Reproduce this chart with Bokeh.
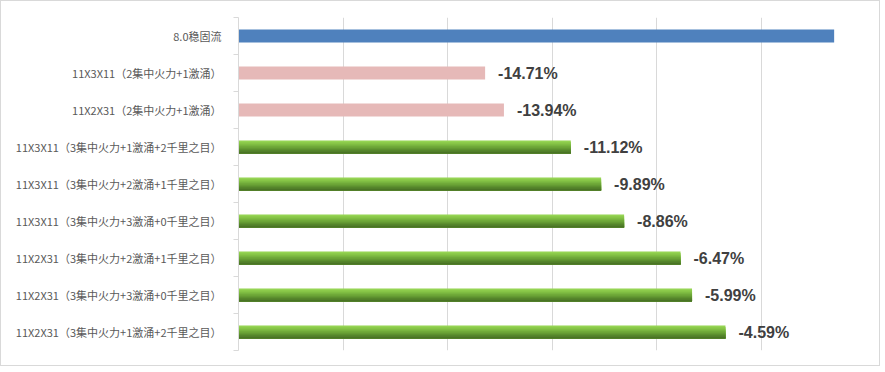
from bokeh.plotting import figure
from bokeh.models import ColumnDataSource, Range1d, FixedTicker
from bokeh.core.properties import value
from bokeh.embed import file_html
from bokeh.resources import INLINE

categories = [
    "8.0稳固流",
    "11X3X11（2集中火力+1激涌）",
    "11X2X31（2集中火力+1激涌）",
    "11X3X11（3集中火力+1激涌+2千里之目）",
    "11X3X11（3集中火力+2激涌+1千里之目）",
    "11X3X11（3集中火力+3激涌+0千里之目）",
    "11X2X31（3集中火力+2激涌+1千里之目）",
    "11X2X31（3集中火力+3激涌+0千里之目）",
    "11X2X31（3集中火力+1激涌+2千里之目）",
]
values = [5.70, 2.36, 2.54, 3.18, 3.47, 3.69, 4.23, 4.34, 4.66]
pct_labels = ["", "-14.71%", "-13.94%", "-11.12%", "-9.89%", "-8.86%", "-6.47%", "-5.99%", "-4.59%"]
groups = ["base", "pink", "pink", "green", "green", "green", "green", "green", "green"]
x_ticks = [0, 1, 2, 3, 4, 5, 6]

centers = [i + 0.5 for i in range(len(categories))]
bar_h = 0.35

p = figure(width=878, height=364, output_backend="svg", toolbar_location=None,
           x_range=Range1d(0, 6), y_range=Range1d(len(categories), 0),
           frame_width=627, frame_height=333,
           min_border_left=237, min_border_right=14, min_border_top=16, min_border_bottom=15)
p.styles = {"border": "1px solid #d9d9d9", "box-sizing": "border-box"}
p.outline_line_color = None
p.background_fill_color = "white"
p.border_fill_color = "white"

# blue and pink bars
for grp, color in [("base", "#4f81bd"), ("pink", "#e6b9b8")]:
    idx = [i for i, g in enumerate(groups) if g == grp]
    src = ColumnDataSource(dict(y=[centers[i] for i in idx], right=[values[i] for i in idx]))
    p.hbar(y="y", left=0, right="right", height=bar_h, source=src, fill_color=color, line_color=None)

# green bars with vertical gradient (each layer runs from its top to the bar bottom)
gidx = [i for i, g in enumerate(groups) if g == "green"]
grad = ["#95d453", "#8ccb4b", "#82c045", "#78b43f", "#6ea739", "#649a33", "#5a8c2e", "#517f29", "#4a7425"]
n = len(grad)
sh = bar_h / n
for k, c in enumerate(grad):
    top_off = -bar_h / 2 + sh * k
    src = ColumnDataSource(dict(top=[centers[i] + top_off for i in gidx],
                                bottom=[centers[i] + bar_h / 2 for i in gidx],
                                right=[values[i] for i in gidx]))
    p.quad(left=0, right="right", top="top", bottom="bottom", source=src,
           fill_color=c, line_color=None)

# value labels
lidx = [i for i, t in enumerate(pct_labels) if t]
lsrc = ColumnDataSource(dict(x=[values[i] for i in lidx], y=[centers[i] for i in lidx],
                             t=[pct_labels[i] for i in lidx]))
p.text(x="x", y="y", text="t", source=lsrc, x_offset=13, text_baseline="middle",
       text_font=value("Liberation Sans"), text_font_style="bold", text_font_size="16px",
       text_color="#404040")

# axes
p.xaxis.visible = False
p.xaxis.ticker = FixedTicker(ticks=x_ticks)
p.xgrid.ticker = FixedTicker(ticks=x_ticks)
p.xgrid.grid_line_color = "#d9d9d9"
p.ygrid.visible = False

ya = p.yaxis[0]
ya.ticker = FixedTicker(ticks=centers, minor_ticks=list(range(len(categories) + 1)))
ya.major_label_overrides = {c: lab for c, lab in zip(centers, categories)}
ya.axis_line_color = "#d9d9d9"
ya.major_tick_line_color = None
ya.major_tick_out = 0
ya.major_tick_in = 0
ya.minor_tick_line_color = "#d9d9d9"
ya.minor_tick_out = 5
ya.minor_tick_in = 0
ya.major_label_standoff = 12
ya.major_label_text_font = "Noto Sans CJK SC"
ya.major_label_text_font_size = "11px"
ya.major_label_text_color = "#595959"

open("out.html", "w").write(file_html(p, INLINE))
